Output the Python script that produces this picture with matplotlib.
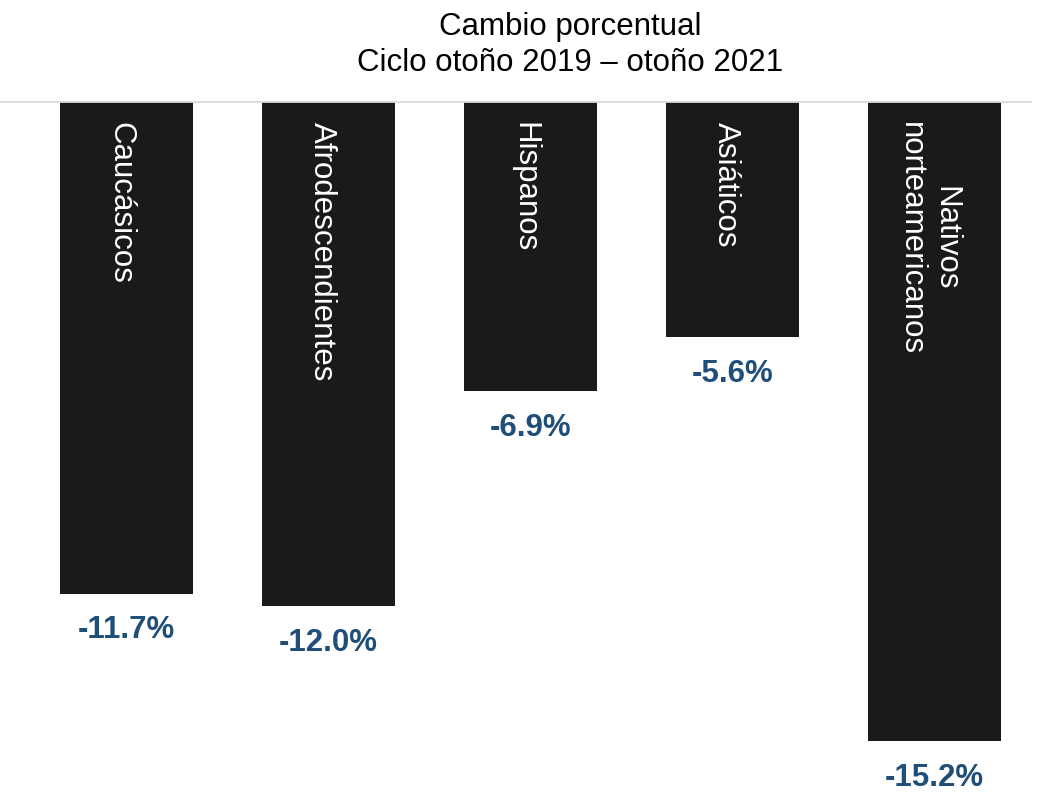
import matplotlib
matplotlib.use("Agg")
import matplotlib.pyplot as plt

plt.rcParams['font.family'] = ['Liberation Sans', 'DejaVu Sans']

categorias = ["Caucásicos", "Afrodescendientes", "Hispanos", "Asiáticos",
              "Nativos\nnorteamericanos"]
cambio = [-11.7, -12.0, -6.9, -5.6, -15.2]
etiquetas = ["-11.7%", "-12.0%", "-6.9%", "-5.6%", "-15.2%"]

W, H = 1041, 792
fig = plt.figure(figsize=(W / 100, H / 100), dpi=100)
# axes: top edge = value 0 (y=101px), full width up to the grey line end
ax = fig.add_axes([0, 0, 1032 / W, 1 - 101 / H])

x = list(range(len(cambio)))
ax.bar(x, cambio, width=0.663, color="#1a1a1a", zorder=2)
ax.set_xlim(-126.5 / 202, (1032 - 126.5) / 202)
ax.set_ylim(-(H - 101) / 42.1, 0)
ax.axhline(0, color="#dcdcdc", lw=2, zorder=3)

for i, (v, lab, cat) in enumerate(zip(cambio, etiquetas, categorias)):
    ax.annotate(lab, (i, v), xytext=(0, -26.5), textcoords="offset points",
                ha="center", va="center", fontsize=22.5, fontweight="bold",
                color="#1f4e79", annotation_clip=False)
    ax.annotate(cat, (i, 0), xytext=(-4.5, -15), textcoords="offset points",
                ha="center", va="top", rotation=270, fontsize=22.5,
                color="white", multialignment="center", zorder=4)

ax.axis("off")

fig.text(570 / W, 1 - 45 / H, "Cambio porcentual\nCiclo otoño 2019 – otoño 2021",
         ha="center", va="center", fontsize=22.5, linespacing=1.3)

fig.savefig("out.png", dpi=100)
